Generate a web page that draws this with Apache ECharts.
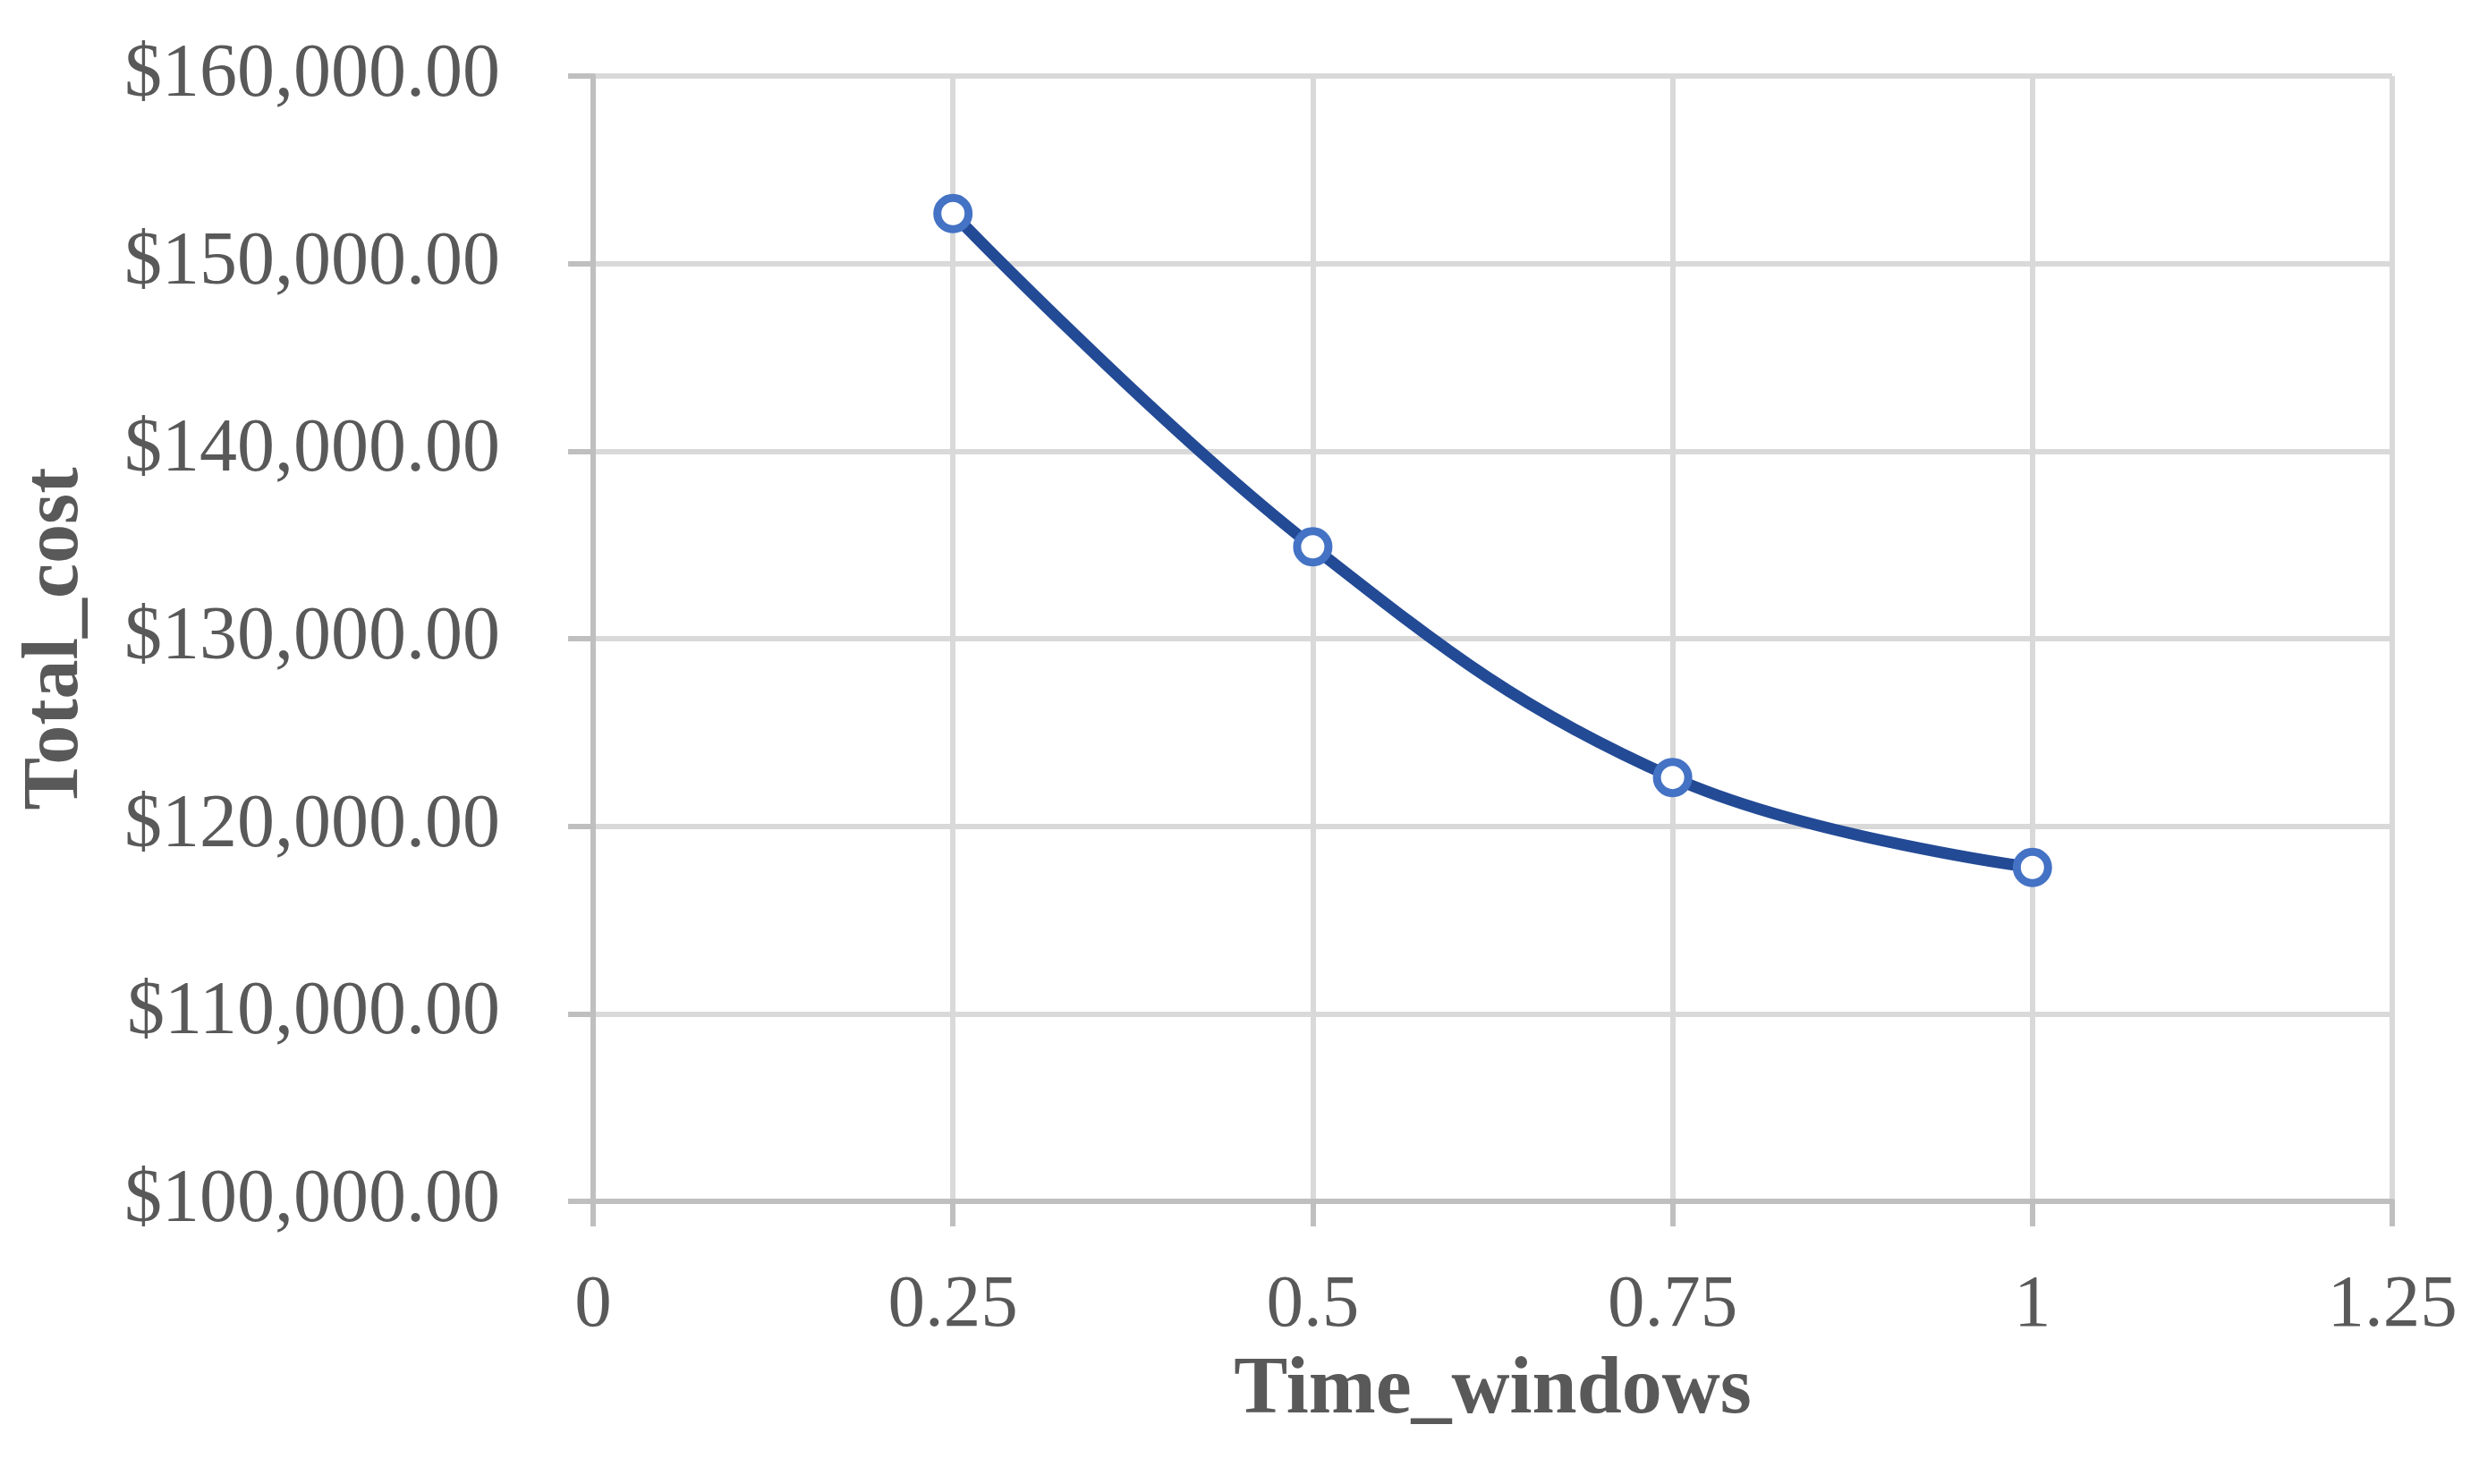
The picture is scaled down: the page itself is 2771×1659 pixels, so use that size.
<!DOCTYPE html>
<html>
<head>
<meta charset="utf-8">
<title>Total cost vs time windows</title>
<script src="https://cdn.jsdelivr.net/npm/echarts@6/dist/echarts.min.js"></script>
<style>
  html, body { margin: 0; padding: 0; background: #fff; }
  #chart { width: 2771px; height: 1659px; }
</style>
</head>
<body>
<div id="chart"></div>
<script>
// values
const timeWindows = [0.25, 0.5, 0.75, 1]
const totalCost = [152670, 134900, 122600, 117800]

const xTicks = { min: 0, max: 1.25, interval: 0.25 }
const yTicks = { min: 100000, max: 160000, interval: 10000 }

const textColor = '#595959'
const fontFamily = '"Liberation Serif", "DejaVu Serif", serif'

function money(v) {
  return '$' + v.toLocaleString('en-US', { minimumFractionDigits: 2, maximumFractionDigits: 2 })
}

const chart = echarts.init(document.getElementById('chart'))

chart.setOption({
  backgroundColor: '#fff',
  animation: false,
  grid: {
    left: 663,
    right: 97,
    top: 85,
    bottom: 316
  },
  xAxis: {
    type: 'value',
    min: xTicks.min,
    max: xTicks.max,
    interval: xTicks.interval,
    name: 'Time_windows',
    nameLocation: 'middle',
    nameGap: 168,
    nameTextStyle: {
      color: textColor,
      fontFamily: fontFamily,
      fontWeight: 'bold',
      fontSize: 90
    },
    axisLine: { lineStyle: { color: '#bfbfbf', width: 6 } },
    axisTick: { show: true, length: 28, lineStyle: { color: '#bfbfbf', width: 6 } },
    axisLabel: {
      color: textColor,
      fontFamily: fontFamily,
      fontSize: 83,
      margin: 76
    },
    splitLine: { show: true, lineStyle: { color: '#d9d9d9', width: 6 } }
  },
  yAxis: {
    type: 'value',
    min: yTicks.min,
    max: yTicks.max,
    interval: yTicks.interval,
    name: 'Total_cost',
    nameLocation: 'middle',
    nameGap: 556,
    nameTextStyle: {
      color: textColor,
      fontFamily: fontFamily,
      fontWeight: 'bold',
      fontSize: 88
    },
    axisLine: { show: true, lineStyle: { color: '#bfbfbf', width: 6 } },
    axisTick: { show: true, length: 28, lineStyle: { color: '#bfbfbf', width: 6 } },
    axisLabel: {
      color: textColor,
      fontFamily: fontFamily,
      fontSize: 84,
      margin: 104,
      formatter: money
    },
    splitLine: { show: true, lineStyle: { color: '#d9d9d9', width: 6 } }
  },
  series: [
    {
      type: 'line',
      data: timeWindows.map((x, i) => [x, totalCost[i]]),
      smooth: 0.4,
      symbol: 'circle',
      symbolSize: 35,
      lineStyle: { color: '#234a95', width: 13 },
      itemStyle: {
        color: '#ffffff',
        borderColor: '#4472c4',
        borderWidth: 9
      },
      z: 3
    }
  ]
})
</script>
</body>
</html>
